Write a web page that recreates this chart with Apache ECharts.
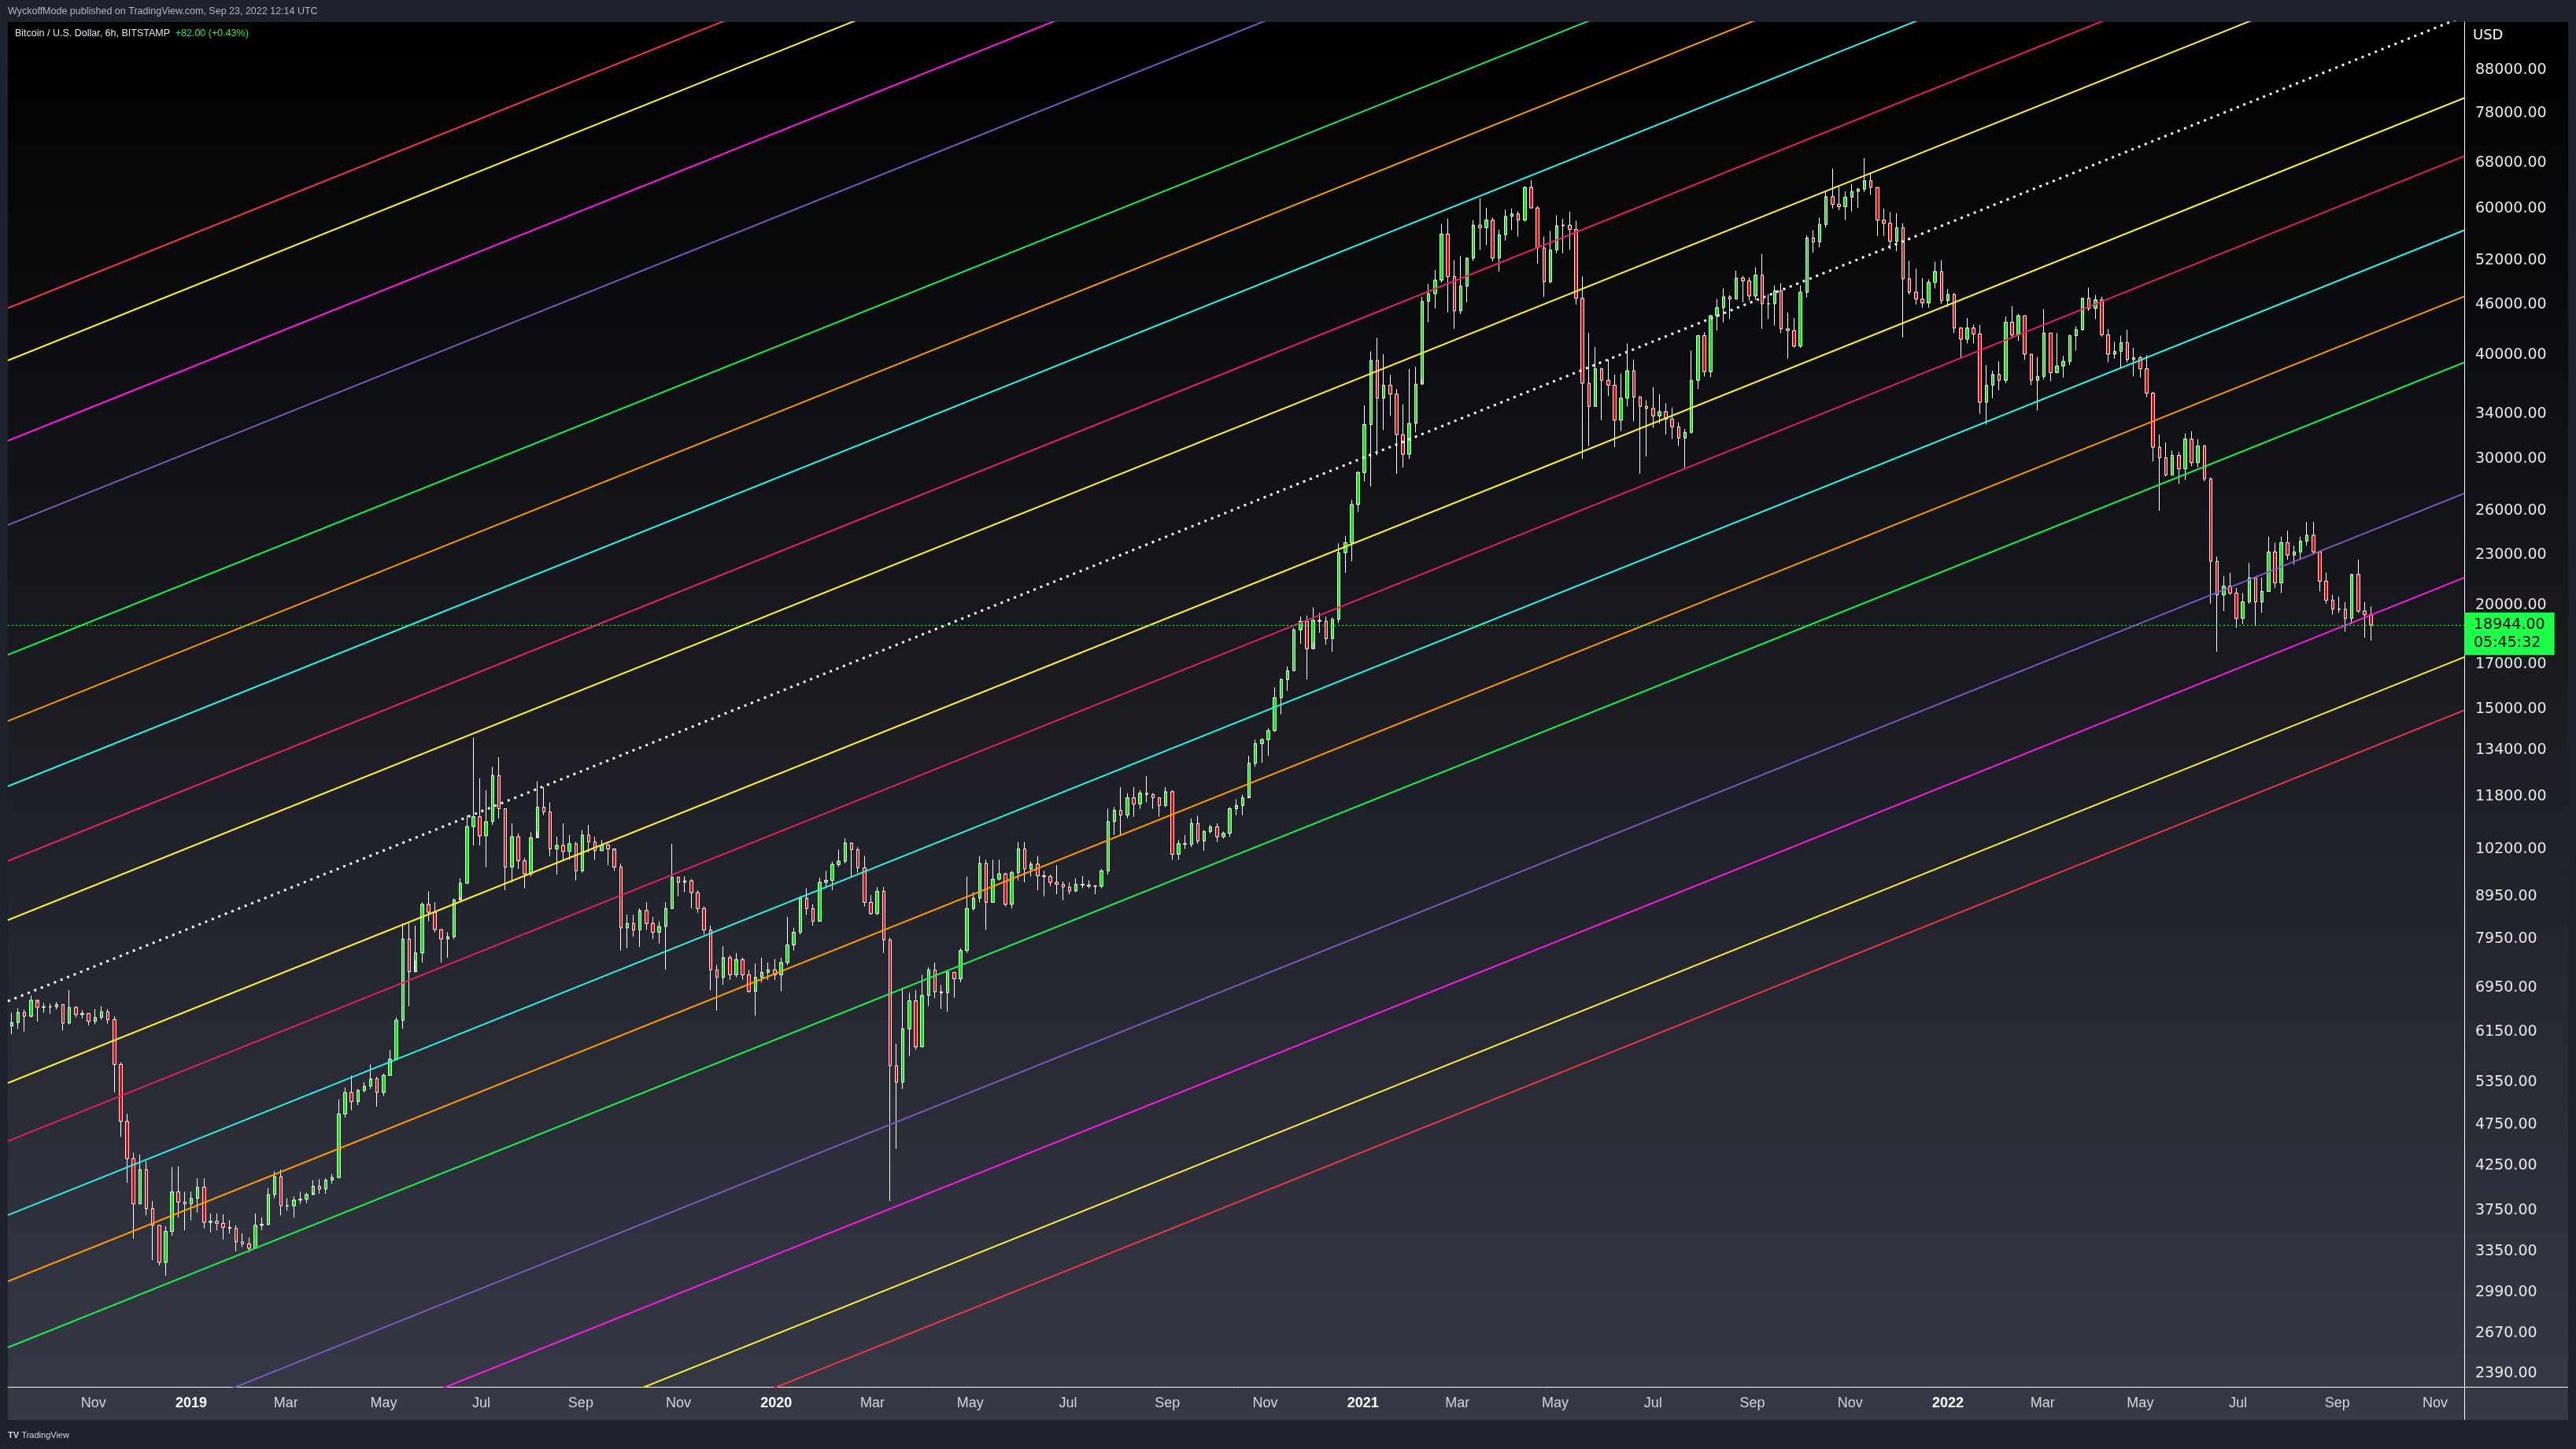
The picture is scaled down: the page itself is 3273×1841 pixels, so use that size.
<!DOCTYPE html>
<html><head><meta charset="utf-8">
<script src="https://cdn.jsdelivr.net/npm/echarts/dist/echarts.min.js"></script>
<style>html,body{margin:0;padding:0;background:#1e222d;overflow:hidden}#c{width:3273px;height:1841px}</style>
</head><body><div id="c"></div>
<script>
// ---------------- DATA ----------------
const candleFirstDate = '2018-09-11';   // centre of first 4-day candle
const candleStepDays = 4;
const firstOpen = 6250;
const candleClose = [
 6310,6490,6420,6710,6580,6590, 6590,6630,6300,6580,6450,6470,6330,6400, 6500,6360,5620,4800,4330,3820,4200, 3770,3600,3250,3540,3950,3840,3820,3880,
 4000,3630,3640,3620,3580,3570,3440,3420, 3380,3600,3610,3920,4120,3800,3800, 3860,3870,3920,4010,3980,4080,4110, 4900,5200,5070,5230,5290,5400,5200,5450,
 5700,6350,7950,7260,7650,8750,8560,8160, 7950,8000,8860,9280,10850,11150,10580, 11000,12500,11400,9700,10550,9870,9520,10520, 11450,11300,10200,10300,10130,10350,9600,10600,
 10400,10150,10310,10200,9700,8200,8300, 8150,8600,8300,8100,8230,8650,9430,9300, 9340,9040,8650,8150,7300,7150,7550, 7200,7510,7200,6880,7150,7250,7300,7200,
 7450,7820,8100,8900,8650,8350,9300,9350, 9770,9860,10370,10180,9680,8800,8530, 9070,7930,5600,5350,6200,6700,5900,6800, 7300,6870,6850,7250,7120,7700,8650,
 8900,9800,8800,9380,9520,8750,9550,10200, 9650,9780,9470,9450,9300,9250,9180,9080, 9250,9230,9200,9200,9600,11000,11350, 11200,11750,11550,11900,11860,11750,11500,11950,
 10050,10350,10330,10950,10430,10700,10840,10550, 10650,11400,11500,11750,12930,13650,13800, 14150,15500,16300,16700,18700,19150,17750,19200, 19150,18250,19250,23150,23800,26450,28900,33000,
 39400,35500,36800,35900,32100,30400,33100, 36900,46400,47400,49200,55900,49700,45200, 48400,52300,57300,56900,58100,52300,55800,58700, 59100,58100,63600,60100,53800,49000,53500,57200,
 57300,56600,46800,37000,34700,38500,37300, 36800,33400,35500,38300,35600,34700,34500,33800, 34200,33500,32800,31800,32300,37300,42200,38200, 44600,45600,47000,46700,49500,49100,47100,
 49900,46100,46100,47800,43000,42800,41000,47600, 55300,54700,57400,62000,60700,60300,61900,62900, 63300,64800,63600,58100,57600,54800,56900, 49400,47600,46700,46200,48900,50400,46500,47300,
 43100,41800,43100,42400,35100,36800,37900,37300, 43800,42300,44600,40100,37300,37700,42500, 38100,38800,39300,42200,42900,46800,45500, 46600,42300,40100,40400,41400,39500,39700,38500,
 36000,31000,30100,28700,30300,29200,31700,29700, 31100,28400,22600,20600,21100,20700,19300, 20200,21600,20200,20800,23200,21300,23800,23000, 23200,23900,24300,23200,21400,20300,19800,19800,
 19300,21800,19700,19500,18944
];
const candleHigh = [
 6480,6560,6540,6800,6650,6660, 6650,6680,6640,6900,6600,6530,6480,6550, 6600,6550,6420,5650,4900,4400,4380, 4300,3850,3600,3590,4230,4240,3950,3950,
 4100,4100,3720,3720,3710,3650,3600,3520, 3480,3720,3680,3990,4180,4200,3880, 3900,3950,3940,4080,4090,4100,4150, 5100,5270,5450,5250,5350,5620,5430,5480,
 5850,6400,8300,8300,8250,8800,9070,8800, 8150,8100,8890,9400,11200,13880,12400, 12000,12800,13150,11400,10950,10650,9950,10680, 12300,12100,11600,10550,10950,10600,10400,10750,
 10900,10550,10450,10350,10150,9800,8500, 8500,8650,8800,8450,8350,8800,10350,9450, 9450,9380,9100,8700,8250,7400,7800, 7600,7650,7550,7300,7430,7550,7450,7520,
 7550,8450,8200,8950,9150,8750,9420,9600, 9850,10180,10500,10350,10250,10000,8980, 9180,9180,7980,5950,6950,6850,6900,7200, 7350,7450,7000,7300,7250,7750,9450,
 9050,10000,9900,9900,9900,9550,9600,10400, 10400,9850,10000,9600,9500,9750,9320,9300, 9400,9460,9350,9230,9650,11400,11450, 12100,11900,12100,12000,12480,11900,11750,12100,
 12000,10450,10600,11100,11180,10750,10900,10950, 10700,11450,11700,11850,13200,13800,13850, 14250,15950,16350,16900,18800,19400,19450,19900, 19600,19400,19350,23750,24250,26800,29000,34800,
 40400,41950,40100,37900,36400,34900,38500, 38700,47000,48700,50600,57500,58350,52000, 52600,52400,58100,61700,60100,58500,56600,59800, 60000,59500,63800,64900,60400,55500,56400,58900,
 58300,59500,58000,49700,42500,40900,38600, 39500,37900,38000,41300,39500,35700,35300,36600, 35900,35000,34600,33200,32600,40500,42300,42600, 44700,46700,48100,47200,50500,49800,49600,
 51000,52900,47300,48500,48800,45000,44300,48500, 55700,56500,58500,62900,67000,63700,62900,64200, 63500,69000,66300,63600,60000,59400,59200, 57600,51900,50800,49500,49300,51800,52000,48000,
 47500,43200,44300,43500,43500,38900,38300,39300, 44500,45800,44800,44600,40100,39800,45400, 42500,42500,39900,42300,43300,46900,48200, 47200,47000,43000,41500,42200,42900,40800,39900,
 40000,36100,32100,31400,30700,30600,32200,32400, 31700,31200,28500,22900,21700,21900,21000, 20700,22500,21600,21600,24200,23800,24200,24600, 23600,24200,25200,25200,23200,21900,20600,20500,
 20200,21800,22700,20200,19950
];
const candleLow = [
 6110,6200,6150,6400,6330,6480, 6460,6540,6170,6280,6400,6380,6260,6280, 6360,6290,5200,4600,4050,3470,3820, 3700,3270,3220,3130,3500,3680,3550,3650,
 3730,3570,3530,3550,3460,3520,3350,3390, 3340,3380,3550,3600,3880,3700,3750, 3680,3820,3830,3940,3930,3930,4040, 4100,4850,4950,5020,5200,5250,5000,5150,
 5450,5680,6200,6600,7500,7450,8350,8100, 7450,7550,7950,8930,9250,10300,10300, 9700,10900,11100,9100,9300,9650,9150,9450, 10700,11200,10000,9500,9900,9900,9350,9550,
 10100,9900,10150,9750,9600,7700,7750, 8000,7780,8150,7950,7850,7300,8650,8950, 9050,8650,8550,8050,6900,6520,7000, 7100,7150,7100,6850,6430,7050,7100,7100,
 6880,7400,7700,8050,8500,8250,8350,9150, 9100,9700,9800,9450,9550,8700,8500, 8500,7650,3850,4450,5250,5750,5850,5900, 6600,6750,6550,6500,6760,7050,7650,
 8600,8800,8150,8800,9350,8700,8650,9350, 9300,9450,9100,8950,9200,9000,8850,9000, 9050,9150,9150,9000,9150,9500,10600, 10600,11100,11150,11400,11600,11400,11150,11450,
 9900,9900,10200,10250,10350,10150,10650,10400, 10500,10550,11200,11200,11800,12800,12950, 13200,14100,14800,15800,16700,18000,16300,18050, 18550,17950,17600,19050,21900,22600,25900,28200,
 27800,30300,32500,33800,28800,29300,30000, 32300,37400,43800,45500,48900,45000,43000, 44800,46300,51900,53500,54200,51800,50400,54900, 56500,55500,57900,60000,51500,47000,48800,53000,
 53000,53500,46000,30000,31100,34700,33400, 35700,31000,32400,34700,33300,28800,30200,32700, 33100,32100,31700,31100,29300,32200,36400,37700, 37600,42800,43800,44200,46700,46300,46500,
 46600,43000,44200,43400,42500,39600,40800,40800, 46900,53100,53900,56900,60000,59700,58100,59500, 60100,62800,62300,55600,55600,53600,53300, 42000,47300,46000,45600,45600,48100,46100,45700,
 42500,39700,41300,41300,34000,33000,35500,36300, 37000,42000,41600,39500,36800,34300,37400, 37200,38200,37600,38900,40500,42800,45200, 44200,42100,39200,39600,38600,39200,37700,37600,
 35600,29800,26000,28600,28700,28000,28300,29400, 29300,28200,20100,17600,19700,20600,18800, 19000,20100,18900,19600,20800,21000,20700,22700, 22400,22700,23600,23100,20800,20100,19500,19600,
 18600,19000,19600,18300,18150
];
const lastPrice = 18944;
const countdownText = '05:45:32';
const changeText = '+82.00 (+0.43%)';

const xLabelDates = ['2018-11-01','2019-01-01','2019-03-01','2019-05-01','2019-07-01','2019-09-01','2019-11-01',
 '2020-01-01','2020-03-01','2020-05-01','2020-07-01','2020-09-01','2020-11-01',
 '2021-01-01','2021-03-01','2021-05-01','2021-07-01','2021-09-01','2021-11-01',
 '2022-01-01','2022-03-01','2022-05-01','2022-07-01','2022-09-01','2022-11-01'];
const monthNames = ['Jan','Feb','Mar','Apr','May','Jun','Jul','Aug','Sep','Oct','Nov','Dec'];
const yTickValues = [88000,78000,68000,60000,52000,46000,40000,34000,30000,26000,23000,20000,17000,15000,
 13400,11800,10200,8950,7950,6950,6150,5350,4750,4250,3750,3350,2990,2670,2390];

const timeMin = '2018-09-08T14:00:00Z';
const timeMax = '2022-11-19T03:00:00Z';
const priceMin = 2303;
const priceMax = 100500;

// Fibonacci channel lines: price at timeMin and at timeMax
const lineNames = ['2','1.886','1.618','1.382','1','0.786','0.618','0.382','0.236','0',
 '-0.236','-0.382','-0.618','-0.786','-1','-1.382','-1.618','-1.886','-2'];
const lineStartPrice = [45540,39400,31550,24990,17450,14530,12130,9863,8377,6694,
 5338,4544,3703,3083,2568,1788,1416,1136,981];
const lineEndPrice = [694900,601200,481500,381400,266300,221800,185100,150500,127800,102100,
 81450,69340,56500,47040,39190,27280,21610,17340,14970];

// ---------------- STYLE ----------------
const lineColors = ['#f23645','#ffeb3b','#ff1ae8','#7e57c2','#1ee84a','#ff9800','#2ef0e8','#e91e63','#ffeb3b','#ffffff',
 '#ffeb3b','#e91e63','#2ef0e8','#ff9800','#1ee84a','#7e57c2','#ff1ae8','#ffeb3b','#f23645'];

const DAY = 86400000;
const tMin = Date.parse(timeMin), tMax = Date.parse(timeMax);
const t0 = Date.parse(candleFirstDate + 'T00:00:00Z');
const candles = candleClose.map((c, i) => {
  const o = i === 0 ? firstOpen : candleClose[i - 1];
  return [t0 + i * candleStepDays * DAY, o, c, candleLow[i], candleHigh[i]];
});

const series = [{
  type: 'candlestick',
  data: candles,
  encode: { x: 0, y: [1, 2, 3, 4] },
  barWidth: 4,
  z: 2,
  itemStyle: { color: '#00f000', color0: '#f00000', borderColor: '#ffffff', borderColor0: '#ffffff', borderWidth: 1 },
  markLine: {
    silent: true, symbol: ['none', 'none'], animation: false,
    data: [{ yAxis: lastPrice }],
    lineStyle: { color: '#1eff4a', type: [2, 3], width: 1 },
    label: {
      show: true, position: 'end', distance: 0,
      formatter: () => lastPrice.toFixed(2) + '\n' + countdownText,
      backgroundColor: '#1eff4a', color: '#000000',
      fontFamily: 'DejaVu Sans', fontSize: 19, lineHeight: 23,
      padding: [4, 12, 4, 12], offset: [0, 11]
    }
  }
}];
lineNames.forEach((n, i) => {
  const mid = n === '0';
  series.push({
    type: 'line', name: n, silent: true, clip: true, symbol: 'none', showSymbol: false, z: 4,
    data: [[tMin, lineStartPrice[i]], [tMax, lineEndPrice[i]]],
    lineStyle: { color: lineColors[i], width: mid ? 3 : 2, type: mid ? [3, 6] : 'solid' }
  });
});

const chart = echarts.init(document.getElementById('c'), null, { renderer: 'canvas' });
chart.setOption({
  animation: false,
  backgroundColor: '#1e222d',
  grid: { left: 10, right: 142, top: 28, bottom: 79, containLabel: false },
  xAxis: {
    type: 'value', min: tMin, max: tMax, scale: true,
    axisLine: { show: true, lineStyle: { color: '#ffffff', width: 1 } },
    axisTick: { show: false }, splitLine: { show: false },
    axisLabel: {
      customValues: xLabelDates.map(d => Date.parse(d + 'T00:00:00Z')),
      formatter: v => { const d = new Date(v); const m = d.getUTCMonth(); return m === 0 ? '{y|' + d.getUTCFullYear() + '}' : monthNames[m]; },
      color: '#d1d4dc', fontFamily: 'Liberation Sans', fontSize: 18, margin: 12,
      rich: { y: { fontFamily: 'Liberation Sans', fontSize: 18, fontWeight: 'bold', color: '#ffffff' } }
    }
  },
  yAxis: {
    type: 'log', logBase: 10, min: priceMin, max: priceMax, position: 'right',
    axisLine: { show: true, lineStyle: { color: '#ffffff', width: 1 } },
    axisTick: { show: false }, splitLine: { show: false }, minorSplitLine: { show: false },
    axisLabel: {
      customValues: yTickValues,
      formatter: v => Number(v).toFixed(2),
      color: '#e8e8ea', fontFamily: 'DejaVu Sans', fontSize: 19, margin: 14
    }
  },
  graphic: [
    { type: 'rect', z: -10, silent: true, shape: { x: 10, y: 28, width: 3253, height: 1776 },
      style: { fill: new echarts.graphic.LinearGradient(0, 0, 0, 1, [{ offset: 0, color: '#000000' }, { offset: 1, color: '#363a46' }]) } },
    { type: 'line', z: 5, silent: true, shape: { x1: 3131, y1: 1762.5, x2: 3263, y2: 1762.5 }, style: { stroke: '#ffffff', lineWidth: 1 } },
    { type: 'line', z: 5, silent: true, shape: { x1: 3131.5, y1: 1762, x2: 3131.5, y2: 1804 }, style: { stroke: '#ffffff', lineWidth: 1 } },
    { type: 'text', z: 5, silent: true, style: { x: 10, y: 15, text: 'WyckoffMode published on TradingView.com, Sep 23, 2022 12:14 UTC', fill: '#b2b5be', font: '12.5px "Liberation Sans"', verticalAlign: 'middle', textVerticalAlign: 'middle' } },
    { type: 'text', z: 5, silent: true, style: { x: 19, y: 43, text: '{a|Bitcoin / U.S. Dollar, 6h, BITSTAMP}  {g|' + changeText + '}', verticalAlign: 'middle', textVerticalAlign: 'middle',
      rich: { a: { fill: '#e0e3eb', font: '12.5px "Liberation Sans"' }, g: { fill: '#22f24a', font: '12.5px "Liberation Sans"' } } } },
    { type: 'text', z: 5, silent: true, style: { x: 3142, y: 45, text: 'USD', fill: '#ffffff', font: '18px "DejaVu Sans"', verticalAlign: 'middle', textVerticalAlign: 'middle' } },
    { type: 'text', z: 5, silent: true, style: { x: 10, y: 1824, text: '{l|TV} {t|TradingView}', verticalAlign: 'middle', textVerticalAlign: 'middle',
      rich: { l: { fill: '#d1d4dc', font: 'bold 11px "Liberation Sans"' }, t: { fill: '#d1d4dc', font: '11px "Liberation Sans"' } } } }
  ],
  series: series
});
</script>
</body></html>
